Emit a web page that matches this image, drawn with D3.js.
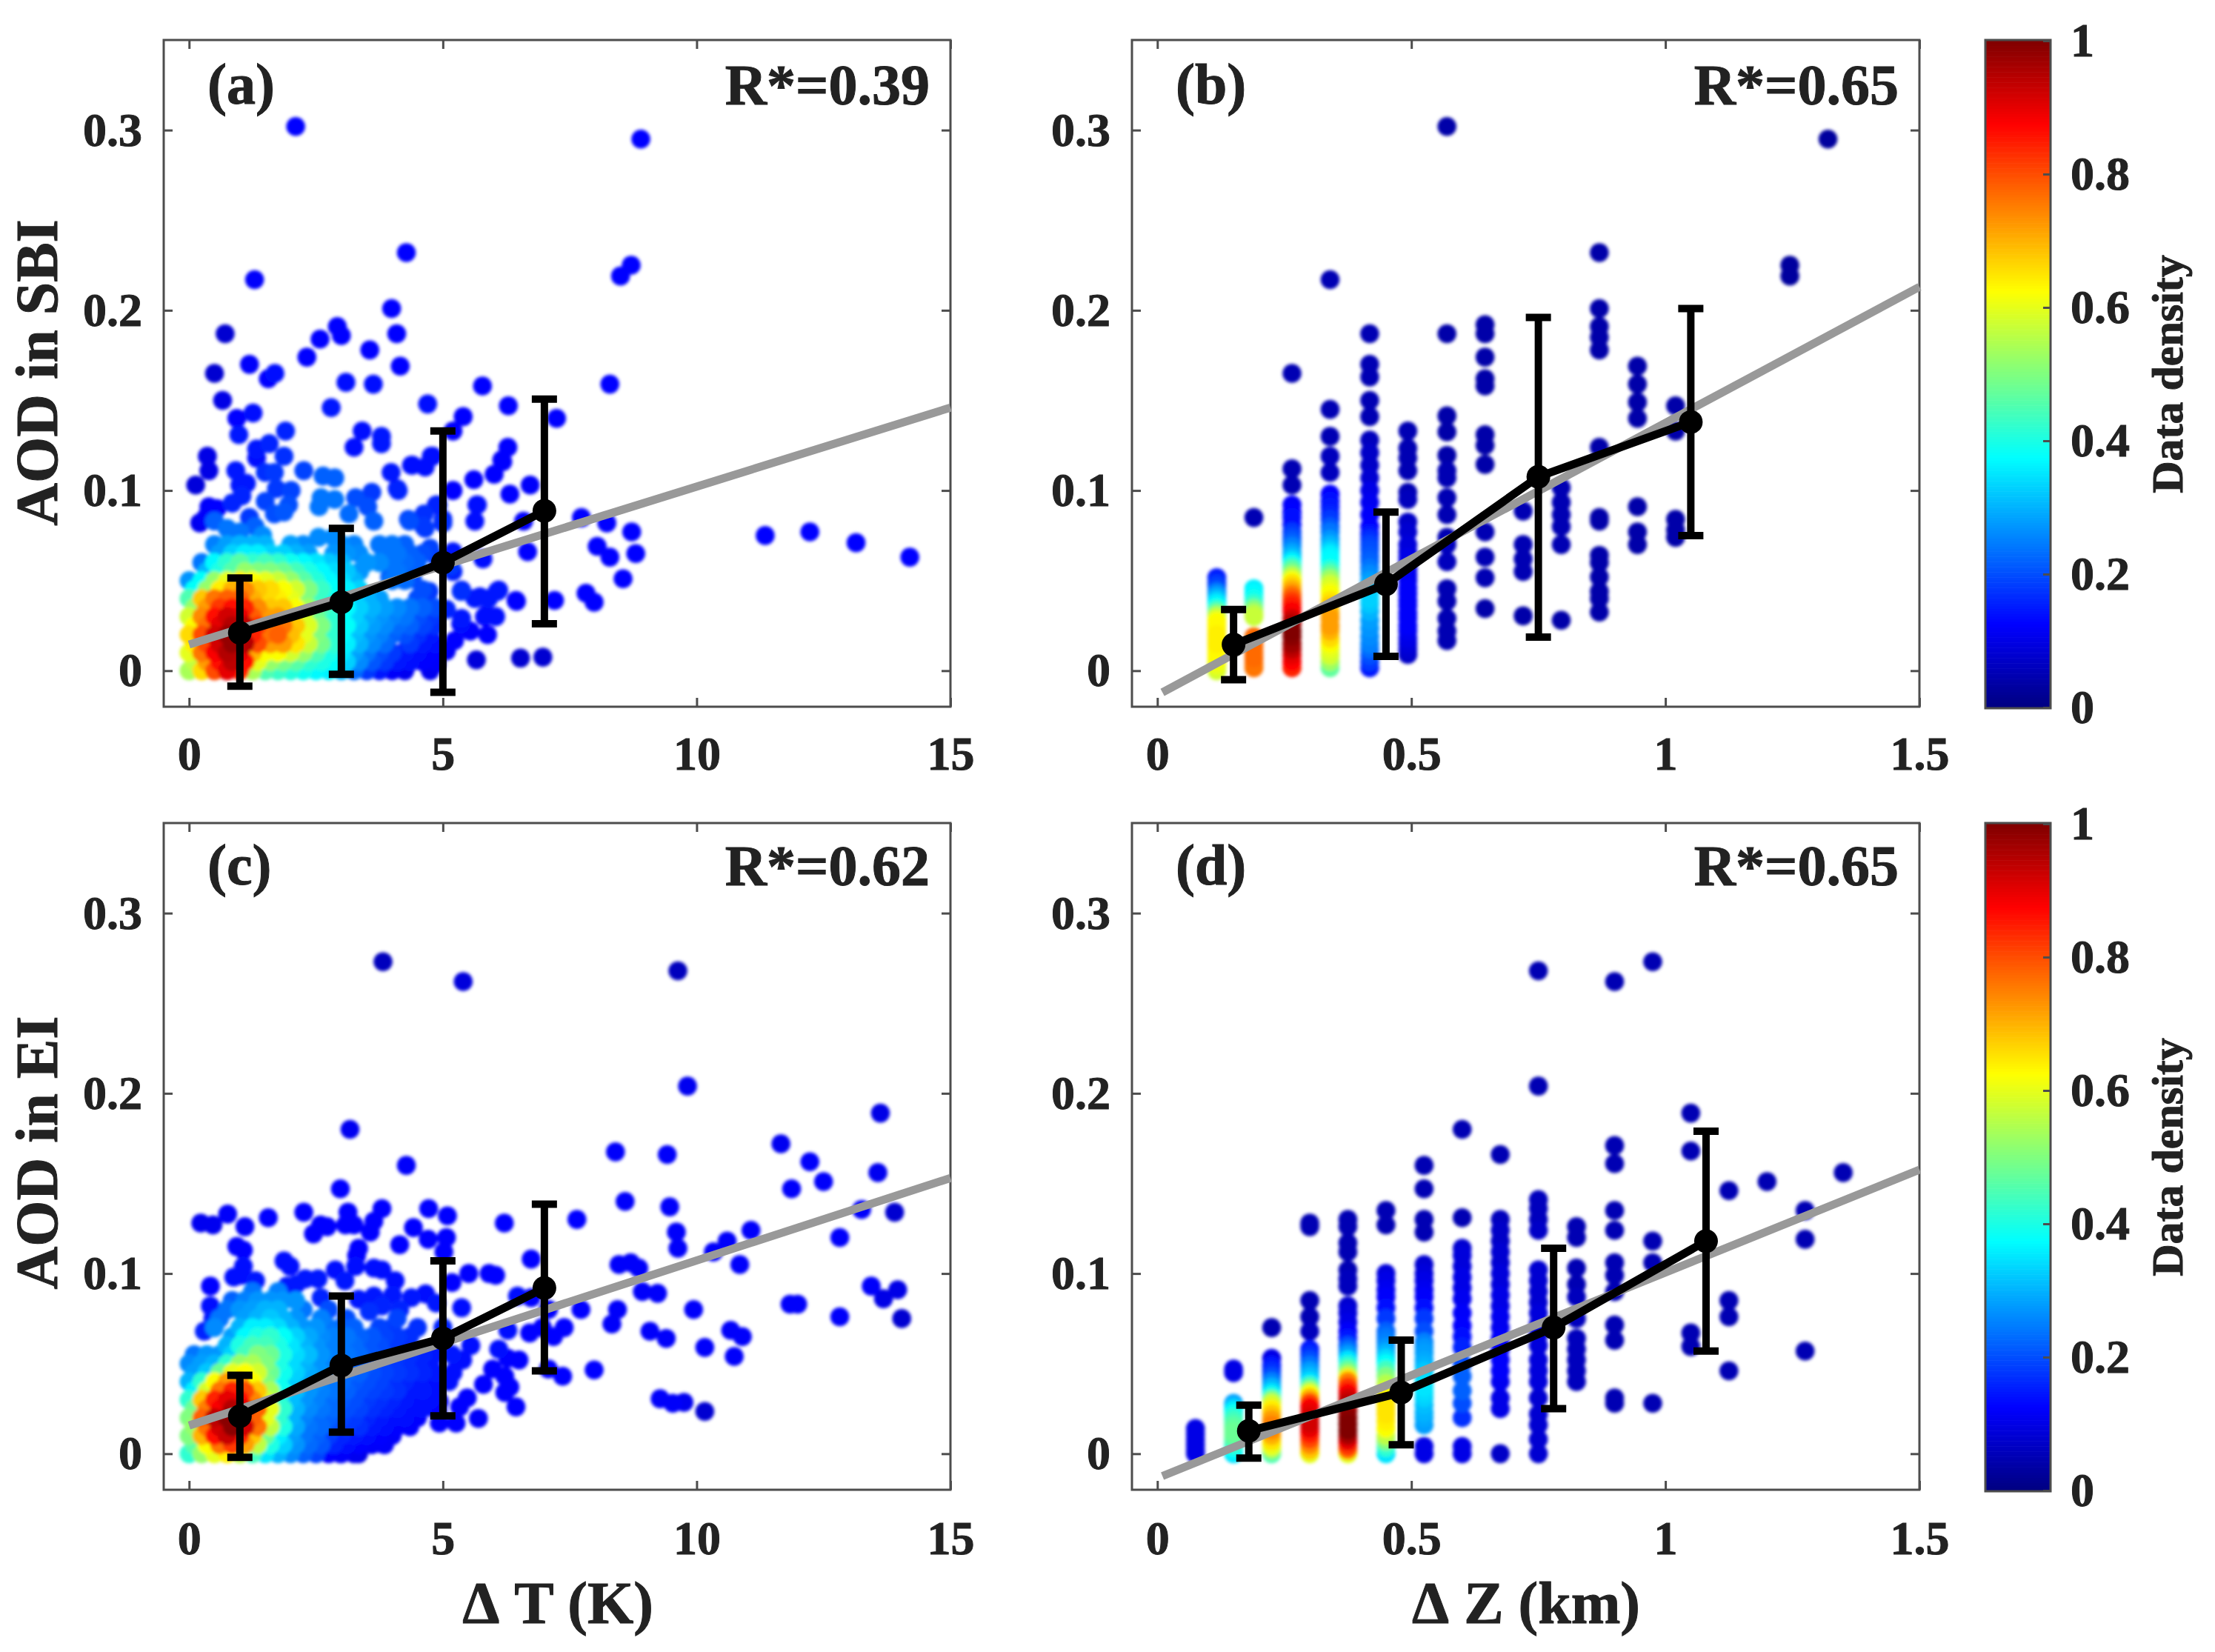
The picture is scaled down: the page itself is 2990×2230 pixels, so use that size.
<!DOCTYPE html>
<html><head><meta charset="utf-8">
<script src="https://cdn.jsdelivr.net/npm/d3@7"></script>
<style>
html,body{margin:0;padding:0;background:#fff}
svg{display:block;background:#fff}
text{font-family:"Liberation Serif","Times New Roman",serif;font-weight:bold;fill:#222;stroke:#222;stroke-width:1}
</style></head><body><div id="chart"></div>
<script>
// ---- tick labels and text
const xTicksT=[0,5,10,15], xTicksZ=[0,0.5,1,1.5], yTicks=[0,0.1,0.2,0.3], cbTicks=[0,0.2,0.4,0.6,0.8,1];
const panelLabels=["(a)","(b)","(c)","(d)"], rLabels=["R*=0.39","R*=0.65","R*=0.62","R*=0.65"];
const rowLabels=["AOD in SBI","AOD in EI"], colLabels=["\u0394\u00a0T (K)","\u0394\u00a0Z (km)"];

// ---- dense cores of (a) and (c): density in percent
const coreX=[0,0.25,0.5,0.75,1,1.25,1.5,1.75,2,2.25,2.5,2.75,3,3.25,3.5,3.75,4,4.25,4.5,4.75];
const coreYA=[0.07,0.065,0.06,0.055,0.05,0.045,0.04,0.035,0.03,0.025,0.02,0.015,0.01,0.005,0];
const coreA=[
[0,0,25,28,30,30,30,0,28,26,0,0,26,25,0,24,24,22,0,0],
[0,0,28,33,36,36,33,33,30,28,0,27,27,26,0,24,24,22,20,0],
[0,24,37,42,46,42,44,42,39,37,35,32,30,0,27,26,24,23,22,0],
[0,30,40,46,52,50,50,48,44,40,37,34,32,0,0,0,24,0,0,0],
[27,38,52,60,64,62,60,57,52,46,41,37,34,30,0,0,24,23,0,0],
[38,52,64,70,74,68,66,62,58,50,43,38,36,33,0,0,0,0,20,0],
[45,68,76,78,78,70,66,64,60,50,43,39,36,33,30,28,0,0,20,0],
[52,72,82,86,84,74,68,68,62,53,45,40,37,33,30,28,26,24,22,20],
[58,74,86,92,90,78,72,72,66,57,48,42,38,33,29,27,25,24,20,18],
[62,76,90,95,94,82,75,76,68,59,50,42,38,32,28,26,23,22,19,17],
[66,80,92,98,96,84,76,78,69,60,50,42,37,31,27,25,22,20,17,15],
[64,80,92,98,95,80,72,72,65,57,49,42,36,30,26,23,0,18,15,14],
[60,76,88,95,90,70,62,62,58,52,45,40,35,28,24,20,18,15,14,13],
[56,72,86,94,86,60,52,49,46,42,40,38,33,26,21,18,15,14,13,12],
[54,66,80,90,84,54,45,43,41,39,37,36,30,23,18,15,12,11,0,11]];
const coreYC=[0.09,0.085,0.08,0.075,0.07,0.065,0.06,0.055,0.05,0.045,0.04,0.035,0.03,0.025,0.02,0.015,0.01,0.005,0];
const coreC=[
[0,0,0,0,0,24,0,25,0,0,0,0,0,0,0,0,0,0,0,0],
[0,0,0,22,25,27,27,27,27,0,0,0,0,0,0,0,0,0,0,0],
[0,0,0,24,27,28,30,30,0,24,0,20,0,0,0,0,0,0,0,0],
[0,0,24,0,28,30,32,30,27,0,25,0,20,0,0,0,19,0,0,0],
[0,0,26,0,30,36,36,34,30,27,27,24,22,22,0,19,18,0,17,0],
[0,0,0,28,37,40,42,38,33,29,26,25,24,22,21,19,18,17,0,0],
[0,0,0,30,40,44,44,40,35,30,27,25,24,23,21,20,18,17,0,0],
[24,27,27,33,44,50,48,40,34,31,27,25,24,23,21,20,18,17,16,15],
[26,28,30,42,52,54,50,40,34,30,27,25,24,22,21,19,18,17,16,15],
[28,32,48,60,62,58,48,39,33,29,27,25,23,22,20,19,18,17,16,15],
[30,42,62,72,72,62,50,38,32,28,26,24,23,21,20,19,17,16,15,14],
[36,58,76,84,80,68,54,39,31,27,25,24,22,20,19,18,17,15,15,14],
[42,68,84,90,86,74,58,41,31,27,25,23,21,20,18,17,16,15,14,14],
[48,75,88,95,90,78,60,42,30,26,24,23,20,19,17,16,15,14,14,13],
[50,78,94,99,94,78,60,42,30,25,23,22,19,18,16,15,14,14,13,0],
[52,76,92,99,92,76,56,40,29,24,23,20,18,17,15,14,13,13,0,0],
[50,70,86,93,84,68,48,36,28,24,22,18,16,15,14,13,12,0,0,0],
[46,62,76,82,72,56,40,33,27,23,21,16,14,13,12,12,0,0,0,0],
[42,52,60,64,56,44,35,30,26,22,19,13,12,11,0,0,0,0,0,0]];

// ---- scattered points [x, y, density]
const scatterA=[[2.1,.302,.13],[8.9,.295,.13],[4.28,.232,.13],[8.71,.225,.13],[8.5,.219,.13],[1.29,.217,.12],[3.99,.201,.13],[4.09,.187,.13],[.71,.187,.08],[2.92,.191,.13],[3,.186,.13],[2.58,.184,.13],[3.56,.178,.13],[2.32,.174,.13],[4.16,.169,.13],[1.19,.17,.12],[.5,.165,.08],[1.56,.162,.13],[1.69,.165,.14],[3.09,.16,.14],[3.63,.159,.14],[5.78,.158,.13],[8.29,.159,.13],[.66,.15,.1],[4.7,.148,.14],[6.29,.147,.13],[2.8,.146,.15],[5.4,.141,.13],[1.26,.143,.14],[.94,.14,.13],[7.24,.14,.13],[.98,.131,.15],[1.9,.133,.16],[3.41,.133,.14],[3.79,.13,.15],[5.2,.133,.13],[3.25,.124,.14],[3.79,.126,.15],[6.28,.124,.13],[1.58,.126,.16],[1.33,.123,.15],[1.33,.118,.14],[.36,.119,.1],[.39,.111,.1],[1.87,.119,.17],[6.16,.117,.13],[4.38,.114,.14],[4.77,.119,.14],[4.65,.113,.14],[3.98,.11,.15],[2.26,.111,.19],[.92,.111,.15],[6.01,.109,.13],[1.68,.11,.18],[1.5,.11,.17],[2.64,.108,.22],[2.87,.107,.22],[5.61,.106,.13],[6.72,.103,.12],[.13,.103,.09],[1,.103,.15],[1.13,.104,.15],[4.1,.101,.15],[5.2,.1,.13],[1.72,.101,.18],[2.01,.1,.19],[3.6,.099,.18],[6.32,.098,.13],[1.04,.097,.16],[3.28,.096,.2],[2.87,.095,.24],[2.6,.096,.24],[4.87,.092,.15],[5.67,.092,.14],[.39,.091,.12],[.55,.09,.13],[.85,.093,.16],[1.5,.094,.19],[1.96,.092,.2],[2.56,.091,.24],[3.52,.091,.2],[1.19,.085,.18],[1.68,.087,.2],[.21,.082,.11],[.33,.085,.12],[1.87,.088,.21],[3.15,.087,.23],[3.64,.083,.22],[4.32,.084,.19],[4.63,.087,.17],[4.65,.079,.18],[5,.084,.16],[5.63,.083,.14],[6.59,.083,.12],[7.73,.085,.13],[8.23,.082,.13],[8.72,.077,.13],[8.8,.065,.13],[8.04,.069,.13],[8.29,.063,.13],[8.55,.051,.13],[7.82,.043,.13],[7.98,.038,.13],[11.35,.075,.13],[12.23,.077,.13],[13.14,.071,.13],[14.2,.063,.13],[6.67,.066,.13],[5.79,.062,.14],[6.44,.039,.13],[7.2,.039,.13],[6.07,.044,.15],[5.73,.041,.15],[5.36,.044,.17],[5.85,.031,.14],[6.04,.03,.14],[5.66,.006,.09],[6.53,.007,.08],[6.97,.0075,.08],
[.5,.083,.22],[.75,.079,.24],[1.0,.077,.24],[1.3,.08,.22],[1.45,.075,.26],[2.55,.074,.26],[2.85,.074,.26],
[4.73,.044,.18],[4.5,.04,.2],[5.37,.0447,.15],[6.1,.0447,.14],[5.63,.04,.15],[5.9,.04,.15],[6.45,.0385,.13],[5.82,.03,.13],[5.37,.029,.15],[5.07,.034,.16],[5.35,.026,.14],[5.54,.022,.13],[5.88,.02,.13],[5.23,.0167,.13],[4.79,.03,.17],[5.07,.011,.12],[4.87,.0037,.11],[4.34,.0044,.11],[4.26,.011,.12],[4.5,.0098,.11],[4.79,.011,.12],[5.68,.092,.14],[5.2,.066,.15],[5.2,.055,.16],[4.9,.092,.16],[5,.082,.17],[4.62,.08,.18],[4.34,.083,.2],[3.95,.052,.22],[4.4,.051,.2],[3.36,.055,.27],[4.12,.1,.16],[4.4,.114,.14],[4.8,.119,.14],[6.18,.116,.13],[5.15,.058,.18],[4.9,.062,.18],[4.75,.068,.19]];

const scatterC=[[3.82,.273,.06],[9.63,.268,.06],[5.4,.262,.09],[9.82,.204,.11],[13.62,.189,.1],[3.17,.18,.11],[11.66,.172,.11],[8.4,.1675,.12],[9.42,.166,.12],[4.28,.16,.12],[12.23,.162,.12],[12.5,.151,.12],[13.57,.156,.11],[11.87,.147,.12],[2.98,.147,.13],[8.59,.14,.12],[9.47,.137,.12],[13.25,.1355,.12],[13.9,.134,.08],[4.72,.136,.13],[3.8,.136,.13],[3.13,.134,.13],[5.09,.132,.13],[.76,.133,.12],[.23,.128,.11],[.47,.127,.11],[1.1,.126,.12],[1.56,.131,.13],[2.26,.134,.13],[2.59,.127,.13],[2.72,.126,.13],[2.45,.122,.13],[3.08,.127,.13],[3.25,.127,.13],[3.64,.129,.13],[3.57,.123,.13],[4.42,.1255,.13],[6.21,.128,.13],[7.64,.13,.13],[11.07,.124,.12],[9.6,.123,.12],[9.63,.114,.12],[12.82,.12,.12],[10.6,.118,.12],[10.33,.112,.12],[10.85,.105,.12],[4.15,.116,.13],[4.71,.119,.13],[5.07,.12,.13],[5.02,.112,.13],[.94,.115,.13],[1.07,.113,.13],[3.34,.114,.13],[3.3,.11,.13],[1.07,.104,.14],[.88,.098,.14],[1.04,.099,.14],[1.31,.096,.15],[1.87,.107,.14],[1.99,.104,.14],[2.88,.102,.14],[3.64,.103,.14],[3.8,.102,.14],[3.28,.104,.14],[5.51,.1,.13],[5.91,.1,.13],[6.04,.099,.13],[6.74,.108,.13],[8.47,.105,.12],[8.7,.106,.12],[8.86,.103,.12],[2.29,.097,.15],[2.54,.097,.15],[1.93,.093,.15],[2.11,.094,.15],[3.07,.096,.15],[.42,.093,.13],[4.06,.096,.14],[5.18,.095,.13],[8.93,.09,.12],[9.23,.089,.12],[13.44,.093,.12],[13.96,.091,.1],[13.68,.086,.1],[14.04,.075,.08],[11.84,.083,.12],[11.99,.083,.12],[12.82,.076,.12],[9.94,.08,.12],[7.72,.08,.13],[8.44,.08,.12],[8.33,.072,.12],[9.08,.068,.12],[9.4,.064,.12],[10.67,.0685,.12],[10.9,.065,.12],[10.74,.054,.12],[10.16,.059,.12],[9.28,.0305,.12],[9.53,.028,.12],[9.75,.0285,.11],[10.16,.0235,.08],[7.98,.0465,.13],[7.36,.043,.13],[7.08,.047,.13],[7.39,.07,.13],[7.18,.065,.13],[6.71,.067,.13],[6.96,.07,.13],[6.28,.0685,.14],[6.47,.0875,.14],[6.74,.0866,.13],[7.08,.08,.13],[6.1,.058,.14],[6.28,.053,.13],[6.5,.052,.13],[5.98,.047,.13],[6.22,.043,.13],[6.32,.037,.13],[6.22,.034,.13],[6.44,.026,.13],[5.8,.0385,.13],[5.7,.0196,.12],[5.48,.031,.13],[5.33,.026,.13],[5.26,.017,.13],[4.93,.017,.13],[5.12,.04,.14],[4.93,.029,.13],[5.39,.052,.14],[5.55,.06,.14],[5.18,.055,.15],[5.37,.081,.14],[4.87,.0836,.15],[4.66,.0887,.14],[4.38,.0866,.15],[4.01,.088,.15],[3.64,.0875,.15],[3.34,.0857,.15],[2.6,.0866,.16],[.42,.082,.14],[.47,.075,.15],[.3,.068,.16],[3.8,.082,.16],[3.55,.079,.17],[4.15,.08,.16],[5,.07,.16],[5.2,.045,.14],[3.34,.0,.1],[3.77,.0057,.11],[2.98,.0,.1],[4.13,.018,.13],[3.6,.016,.13],[4,.012,.12],[4.9,.024,.13]];

// ---- columns of (b) and (d): [x, [y list], [density list]]
const columnsB=[
[.117,[.0516,.049,.047,.044,.042,.04,.038,.036,.034,.032,.03,.0277,.025,.0225,.02,.0175,.015,.0125,.01,.0075,.005,.0025,0],[.15,.17,.19,.24,.28,.31,.35,.38,.43,.5,.57,.62,.63,.63,.64,.64,.64,.63,.63,.62,.61,.6,.58]],
[.19,[.085,.0455,.043,.04,.037,.0345,.032,.03,.0188,.016,.013,.01,.007,.004,.0016],[.05,.36,.37,.39,.43,.5,.55,.57,.77,.77,.77,.77,.77,.76,.76]],
[.265,[.165,.112,.103,.092,.088,.085,.081,.077,.074,.0715,.069,.066,.064,.062,.06,.058,.056,.0537,.052,.05,.048,.0455,.043,.041,.0385,.036,.033,.029,.026,.022,.019,.015,.012,.0085,.005,.0016],[.05,.05,.05,.12,.13,.14,.14,.18,.2,.22,.25,.28,.3,.33,.37,.42,.47,.52,.57,.62,.66,.7,.74,.78,.82,.85,.88,.92,.96,1,.99,.97,.94,.9,.87,.84]],
[.34,[.217,.145,.13,.119,.11,.098,.094,.0907,.087,.084,.08,.077,.073,.07,.067,.0647,.062,.059,.056,.0537,.051,.048,.045,.0427,.039,.036,.032,.029,.025,.022,.018,.015,.012,.0085,.005,.0016],[.05,.05,.05,.06,.06,.13,.14,.15,.16,.18,.21,.24,.27,.3,.33,.36,.37,.38,.42,.47,.53,.58,.6,.62,.65,.68,.7,.72,.72,.7,.66,.62,.6,.58,.53,.47]],
[.418,[.187,.17,.163,.15,.141,.128,.121,.114,.107,.1,.0934,.0866,.08,.076,.073,.07,.067,.0635,.0605,.057,.0537,.05,.0468,.043,.04,.037,.033,.028,.0236,.019,.015,.012,.0085,.005,.0016],[.05,.05,.05,.05,.05,.06,.07,.07,.08,.1,.11,.12,.13,.15,.17,.19,.2,.21,.22,.24,.26,.28,.3,.32,.33,.32,.3,.28,.27,.26,.25,.23,.2,.18,.15]],
[.493,[.133,.1235,.118,.111,.099,.095,.0825,.077,.07,.066,.063,.06,.0564,.053,.05,.046,.0427,.039,.036,.032,.029,.025,.022,.018,.015,.012,.009],[.05,.05,.05,.05,.05,.06,.07,.08,.09,.09,.1,.1,.1,.11,.11,.12,.12,.12,.12,.12,.12,.12,.11,.1,.09,.08,.07]],
[.57,[.302,.187,.1414,.1325,.1195,.111,.107,.096,.0866,.074,.07,.0605,.0455,.0386,.029,.022,.0167],[.04,.04,.04,.04,.04,.05,.05,.05,.05,.05,.06,.06,.05,.05,.05,.05,.05]],
[.645,[.192,.187,.174,.162,.158,.131,.125,.1145,.077,.063,.0516,.0345],[.04,.04,.04,.04,.04,.04,.04,.04,.05,.05,.05,.04]],
[.72,[.0886,.07,.062,.055,.0304],[.05,.05,.05,.05,.04]],
[.795,[.1016,.0934,.0866,.08,.07,.028],[.05,.05,.05,.05,.05,.04]],
[.87,[.232,.201,.191,.185,.178,.124,.085,.083,.064,.06,.052,.044,.04,.0325],[.04,.04,.04,.04,.04,.04,.04,.04,.04,.04,.04,.04,.04,.04]],
[.945,[.169,.159,.149,.14,.091,.077,.07],[.04,.04,.04,.04,.04,.04,.04]],
[1.02,[.147,.133,.084,.078,.074],[.04,.04,.04,.04,.04]],
[1.245,[.225,.219],[.03,.03]],
[1.32,[.295],[.03]]];

const columnsD=[
[.075,[.014,.011,.008,.005,.002,0],[.1,.1,.1,.1,.1,.1]],
[.15,[.047,.045,.028,.026,.024,.022,.02,.018,.016,.014,.012,.01,.008,.006,.004,.002,0],[.1,.1,.28,.32,.36,.39,.42,.44,.46,.47,.48,.47,.45,.43,.4,.37,.35]],
[.225,[.07,.053,.049,.046,.043,.04,.037,.034,.032,.03,.028,.025,.022,.019,.016,.013,.01,.007,.004,.002,0],[.05,.1,.15,.17,.2,.25,.3,.35,.4,.5,.58,.64,.68,.72,.75,.74,.7,.65,.6,.52,.45]],
[.3,[.128,.126,.085,.076,.068,.058,.055,.052,.049,.046,.043,.04,.0375,.035,.033,.031,.0285,.026,.023,.02,.017,.014,.011,.008,.005,.002,0],[.05,.05,.05,.05,.06,.15,.17,.2,.24,.28,.31,.35,.45,.55,.62,.7,.8,.88,.9,.92,.92,.9,.85,.8,.74,.68,.6]],
[.375,[.13,.126,.117,.112,.102,.097,.093,.082,.078,.073,.068,.064,.06,.0575,.055,.052,.049,.0465,.044,.042,.04,.037,.034,.031,.028,.024,.02,.0165,.013,.01,.007,.004,.002,0],[.05,.05,.05,.05,.05,.06,.06,.08,.09,.1,.12,.15,.2,.24,.28,.35,.42,.48,.55,.65,.75,.82,.88,.92,.95,.97,.99,1,1,.96,.9,.82,.75,.6]],
[.45,[.135,.127,.1,.096,.091,.087,.081,.075,.068,.065,.062,.059,.056,.053,.05,.0465,.043,.039,.035,.031,.028,.025,.022,.018,.014,.01,.007,.0035,0],[.05,.05,.09,.1,.11,.12,.14,.18,.22,.24,.25,.27,.3,.34,.38,.44,.5,.55,.6,.63,.65,.65,.65,.64,.62,.56,.5,.42,.35]],
[.525,[.16,.147,.13,.123,.105,.1,.096,.091,.087,.081,.075,.068,.062,.059,.056,.052,.049,.046,.043,.04,.037,.034,.031,.027,.023,.02,.016,.004,0],[.05,.05,.05,.05,.08,.09,.1,.11,.12,.14,.18,.2,.25,.27,.28,.29,.3,.32,.33,.34,.35,.34,.33,.31,.3,.29,.28,.1,.1]],
[.6,[.18,.131,.114,.11,.104,.098,.092,.086,.078,.071,.065,.059,.05,.043,.035,.028,.02,.004,0],[.05,.05,.08,.09,.09,.1,.1,.11,.12,.13,.14,.16,.2,.22,.22,.2,.17,.1,.1]],
[.675,[.166,.13,.124,.118,.112,.106,.1,.094,.088,.082,.076,.07,.064,.058,.052,.046,.04,.031,.025,0],[.05,.06,.07,.07,.08,.08,.09,.09,.1,.1,.11,.11,.12,.12,.12,.12,.11,.1,.1,.07]],
[.75,[.268,.204,.141,.136,.13,.124,.102,.096,.09,.084,.078,.072,.066,.06,.052,.046,.04,.031,.022,.016,.008,0],[.05,.05,.06,.06,.06,.07,.08,.08,.08,.08,.09,.09,.09,.09,.09,.09,.09,.08,.08,.08,.08,.08]],
[.825,[.126,.12,.103,.094,.087,.075,.064,.058,.052,.046,.04],[.05,.05,.05,.05,.06,.06,.06,.06,.06,.06,.06]],
[.9,[.262,.171,.161,.135,.124,.106,.099,.09,.0715,.063,.031,.028],[.05,.05,.05,.05,.05,.05,.05,.05,.05,.05,.05,.05]],
[.975,[.273,.118,.106,.028],[.05,.05,.05,.05]],
[1.05,[.189,.168,.067,.0595],[.05,.05,.05,.05]],
[1.125,[.146,.085,.076,.046],[.05,.05,.05,.05]],
[1.2,[.151],[.05]],
[1.275,[.135,.119,.057],[.05,.05,.05]],
[1.35,[.156],[.05]]];

// ---- fit lines [x0,y0,x1,y1] and binned means
const fitLines=[[0,.0145,15,.146],[.01,-.012,1.5,.213],[0,.0157,15,.153],[.01,-.0124,1.5,.1576]];
const meanX=[[1,3,5,7],[.15,.45,.75,1.05],[1,3,5,7],[.18,.48,.78,1.08]];
const meanY=[[.021,.038,.06,.0887],[.0145,.048,.1076,.138],[.0208,.049,.064,.092],[.0127,.034,.07,.118]];
const errHi=[[.0514,.079,.133,.1507],[.034,.088,.196,.201],[.0435,.0875,.107,.1385],[.027,.063,.114,.179]];
const errLo=[[-.0086,-.002,-.012,.026],[-.005,.008,.0186,.075],[-.002,.012,.021,.046],[-.0024,.005,.025,.057]];

// ---- helpers
const jet=d3.scaleLinear().domain([0,.125,.375,.625,.875,1])
  .range(["#000080","#0000ff","#00ffff","#ffff00","#ff0000","#800000"]).clamp(true);
// the dots of the dense cores are staggered from row to row
function fromCore(xs,ys,m){const o=[];m.forEach((r,i)=>r.forEach((d,j)=>{if(d>0)o.push([xs[j]+(i%2?0.1:0),ys[i],d/100]);}));return o;}
function fromColumns(c){const o=[];c.forEach(([x,ys,ds])=>ys.forEach((y,i)=>o.push([x,y,ds[i]])));return o;}
const pointSets=[
  fromCore(coreX,coreYA,coreA).concat(scatterA),
  fromColumns(columnsB),
  fromCore(coreX,coreYC,coreC).concat(scatterC),
  fromColumns(columnsD)];

const svg=d3.select("#chart").append("svg").attr("width",2990).attr("height",2230);
svg.append("defs").append("filter").attr("id","soft")
  .attr("x","-5%").attr("y","-5%").attr("width","110%").attr("height","110%")
  .append("feGaussianBlur").attr("stdDeviation",2.2);
const LEFT=[221,1528], WIDTH=[1062,1063], TOP=[54,1111], HEIGHT=900;
const FRAME="#4d4d4d";
const xDomains=[[-.5,15],[-.05,1.5]];

function styleAxis(g,font){
  g.select(".domain").remove();
  g.selectAll(".tick line").attr("stroke",FRAME).attr("stroke-width",3);
  g.selectAll("text").style("font-size",font+"px");
}
[0,1,2,3].forEach(k=>{
  const col=k%2,row=k<2?0:1;
  const x0=LEFT[col],w=WIDTH[col],y0=TOP[row];
  const x=d3.scaleLinear().domain(xDomains[col]).range([0,w]);
  const y=d3.scaleLinear().domain([-.02,.35]).range([HEIGHT,0]);
  const g=svg.append("g").attr("transform",`translate(${x0},${y0})`);
  const xt=col?xTicksZ:xTicksT;
  const fmt=d3.format("~g");

  const ax=g.append("g").attr("transform",`translate(0,${HEIGHT})`)
    .call(d3.axisBottom(x).tickValues(xt).tickFormat(fmt).tickSize(-12).tickPadding(row?42:40));
  styleAxis(ax,64);
  const axT=g.append("g").call(d3.axisTop(x).tickValues(xt).tickFormat("").tickSize(-12));
  styleAxis(axT,64);
  const ay=g.append("g").call(d3.axisLeft(y).tickValues(yTicks).tickFormat(fmt).tickSize(-12).tickPadding(29));
  styleAxis(ay,64);
  const ayR=g.append("g").attr("transform",`translate(${w},0)`).call(d3.axisRight(y).tickValues(yTicks).tickFormat("").tickSize(-12));
  styleAxis(ayR,64);

  const pts=pointSets[k].slice().sort((a,b)=>a[2]-b[2]);
  g.append("g").attr("filter","url(#soft)").selectAll("circle").data(pts).join("circle")
    .attr("cx",d=>x(d[0])).attr("cy",d=>y(d[1])).attr("r",12.8).attr("fill",d=>jet(d[2]));

  g.append("rect").attr("width",w).attr("height",HEIGHT).attr("fill","none").attr("stroke",FRAME).attr("stroke-width",3);

  const f=fitLines[k];
  g.append("line").attr("x1",x(f[0])).attr("y1",y(f[1])).attr("x2",x(f[2])).attr("y2",y(f[3]))
    .attr("stroke","#999").attr("stroke-width",11);

  const line=d3.line().x(d=>x(d[0])).y(d=>y(d[1]));
  g.append("path").attr("d",line(meanX[k].map((v,i)=>[v,meanY[k][i]]))).attr("fill","none").attr("stroke","#000").attr("stroke-width",11);
  meanX[k].forEach((v,i)=>{
    const px=x(v);
    g.append("line").attr("x1",px).attr("x2",px).attr("y1",y(errHi[k][i])).attr("y2",y(errLo[k][i])).attr("stroke","#000").attr("stroke-width",10);
    [errHi[k][i],errLo[k][i]].forEach(e=>g.append("line").attr("x1",px-17).attr("x2",px+17).attr("y1",y(e)).attr("y2",y(e)).attr("stroke","#000").attr("stroke-width",10));
    g.append("circle").attr("cx",px).attr("cy",y(meanY[k][i])).attr("r",16).attr("fill","#000");
  });

  g.append("text").attr("x",59).attr("y",row?83:86).style("font-size","78px").text(panelLabels[k]);
  g.append("text").attr("x",w-28).attr("y",row?84:87).attr("text-anchor","end").style("font-size","78px").text(rLabels[k]);
});

// row titles, column titles
rowLabels.forEach((t,i)=>{
  svg.append("text").attr("transform",`translate(77,${[503,1556][i]}) rotate(-90)`).attr("text-anchor","middle").style("font-size","80px").text(t);
});
colLabels.forEach((t,i)=>{
  svg.append("text").attr("x",[753,2060][i]).attr("y",2191).attr("text-anchor","middle").style("font-size","80px").text(t);
});

// colour bars
TOP.forEach((top,r)=>{
  const cx=2680,cw=88;
  const c=d3.scaleLinear().domain([0,1]).range([top+HEIGHT+1,top+1]);
  const g=svg.append("g");
  const steps=d3.range(256).map(i=>i/256);
  g.selectAll("rect").data(steps).join("rect")
    .attr("x",cx).attr("width",cw).attr("y",d=>c(d+1/256)).attr("height",d=>c(d)-c(d+1/256)+.6).attr("fill",d=>jet(d+.5/256));
  g.append("rect").attr("x",cx).attr("y",top).attr("width",cw).attr("height",HEIGHT+2).attr("fill","none").attr("stroke",FRAME).attr("stroke-width",3);
  const a=g.append("g").attr("transform",`translate(${cx+cw},0)`)
    .call(d3.axisRight(c).tickValues(cbTicks).tickFormat(d3.format("~g")).tickSize(-10).tickPadding(27));
  styleAxis(a,64);
  svg.append("text").attr("transform",`translate(2946,${top+451}) rotate(-90)`).attr("text-anchor","middle").style("font-size","60px").text("Data density");
});
</script></body></html>
